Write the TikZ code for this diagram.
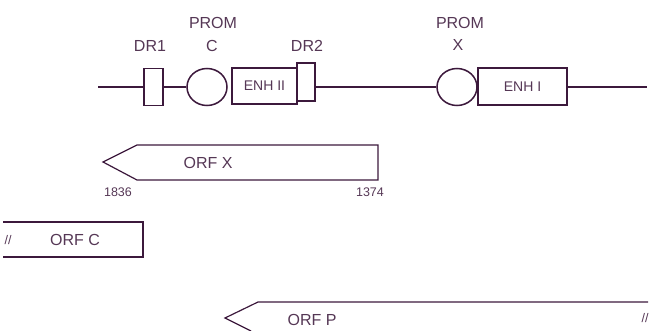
\documentclass[tikz,border=0pt]{standalone}
\usepackage{fontspec}
\setmainfont{Liberation Sans}
\usetikzlibrary{shapes.geometric}
\definecolor{ink}{RGB}{60,25,60}
\definecolor{lab}{RGB}{85,55,85}
\tikzset{
  elem/.style={draw=ink, line width=1.2pt, fill=white, inner sep=0pt, text=lab, font=\fontsize{14}{14}\selectfont},
  prom/.style={ellipse, draw=ink, line width=1.5pt, minimum width=40pt, minimum height=37pt, inner sep=0pt},
  lbl/.style={text=lab, inner sep=0pt, font=\fontsize{16}{16}\selectfont},
  num/.style={text=lab, inner sep=0pt, font=\fontsize{12.5}{12.5}\selectfont},
  orf/.style={draw=ink, line width=1.2pt},
  dna/.style={draw=ink, line width=2pt}
}
\begin{document}
\begin{tikzpicture}[x=1pt,y=-1pt]
\useasboundingbox (0,0) rectangle (654,331);
% gene map
\coordinate (left) at (98,87);
\coordinate (right) at (647,87);
\node[elem, minimum width=19pt, minimum height=37pt] (dr1) at (153.5,87) {};
\node[prom] (promc) at (207,87) {};
\node[elem, minimum width=65pt, minimum height=36pt] (enh2) at (264.5,86) {ENH II};
\node[elem, minimum width=18pt, minimum height=38pt] (dr2) at (306,82) {};
\node[prom] (promx) at (457,87) {};
\node[elem, minimum width=89pt, minimum height=37pt] (enh1) at (522.5,86.5) {ENH I};
\draw[dna] (left) -- (dr1.west);
\draw[dna, line width=1.3pt] (dr1.east) -- (promc.west);
\draw[dna] (promx.west -| dr2.east) -- (promx.west);
\draw[dna] (enh1.east |- right) -- (right);
\node[lbl] (ldr1) at (150,46) {DR1};
\node[lbl] (lpromc) at (213,23) {PROM};
\node[lbl] (lc) at (212,46) {C};
\node[lbl] (ldr2) at (307,46) {DR2};
\node[lbl] (lpromx) at (460,23) {PROM};
\node[lbl] (lx) at (458,45) {X};
% ORF X
\draw[orf] (137,145) -- (378,145) -- (378,180) -- (137,180) -- (103,162) -- cycle;
\node[lbl] (orfx) at (208,163) {ORF X};
\node[num] (n1836) at (118,192) {1836};
\node[num] (n1374) at (370,192) {1374};
% ORF C
\draw[orf] (3,222) -- (143,222) -- (143,257) -- (3,257);
\node[num] (brc) at (8,240) {//};
\node[lbl] (orfc) at (75,240) {ORF C};
% ORF P
\draw[orf] (648,302) -- (258,302) -- (225,318) -- (251,331);
\node[lbl] (orfp) at (312,320) {ORF P};
\node[num] (brp) at (645,318) {//};
\end{tikzpicture}
\end{document}
